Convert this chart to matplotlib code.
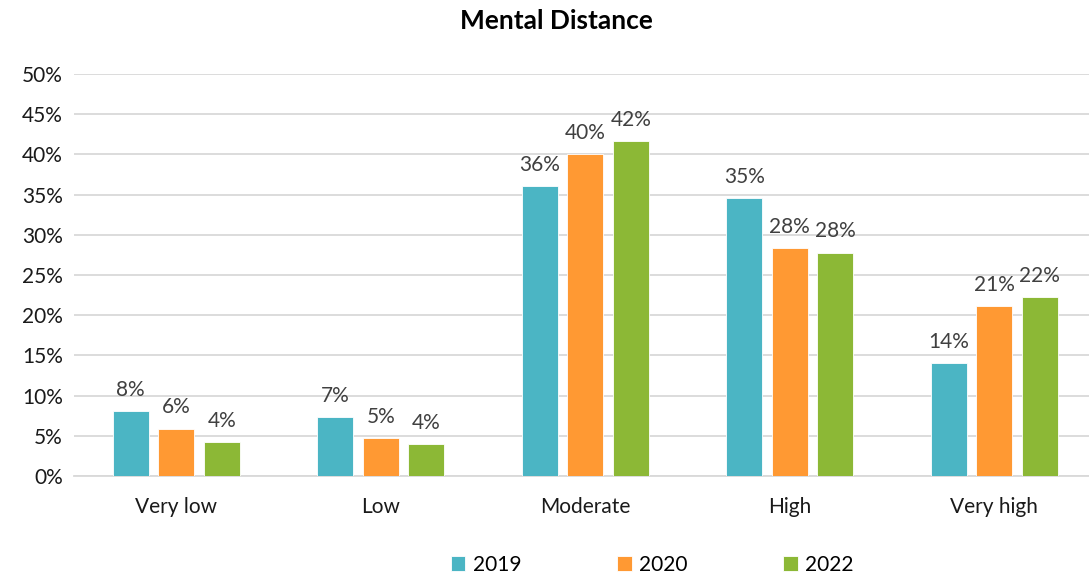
import matplotlib
import matplotlib.pyplot as plt
import numpy as np

matplotlib.rcParams["font.family"] = ["Lato", "DejaVu Sans"]

# Share of respondents per level of mental distance (%)
categories = ["Very low", "Low", "Moderate", "High", "Very high"]
years = ["2019", "2020", "2022"]
vals_2019 = [8.1, 7.3, 36.1, 34.6, 14.0]
vals_2020 = [5.9, 4.7, 40.0, 28.4, 21.1]
vals_2022 = [4.2, 4.0, 41.7, 27.8, 22.3]
yticks = [0, 5, 10, 15, 20, 25, 30, 35, 40, 45, 50]

colours = ["#4BB5C4", "#FF9933", "#8CB836"]
series = [vals_2019, vals_2020, vals_2022]

fig = plt.figure(figsize=(10.89, 5.79), dpi=100)
ax = fig.add_axes([0.068, 0.178, 0.932, 0.694])

x = np.arange(len(categories))
width = 0.176
pitch = 0.2225

for i, (vals, col, yr) in enumerate(zip(series, colours, years)):
    pos = x + (i - 1) * pitch
    bars = ax.bar(pos, vals, width, color=col, edgecolor="white",
                  linewidth=0.6, label=yr, zorder=3)
    for b, v in zip(bars, vals):
        ax.annotate("%.0f%%" % v, (b.get_x() + b.get_width() / 2, v),
                    xytext=(0, 8), textcoords="offset points",
                    ha="center", va="bottom", fontsize=15, color="#404040")

ax.set_xlim(-0.5, 4.463)
ax.set_ylim(0, 50)
ax.set_yticks(yticks)
ax.set_yticklabels(["%d%%" % t for t in yticks])
ax.set_xticks(x)
ax.set_xticklabels(categories)
ax.tick_params(axis="both", length=0, labelsize=15, colors="#1a1a1a")
ax.tick_params(axis="x", pad=15)
ax.tick_params(axis="y", pad=8)
ax.grid(axis="y", color="#D9D9D9", linewidth=1.3, zorder=0)
for side in ["top", "right", "left"]:
    ax.spines[side].set_visible(False)
ax.spines["bottom"].set_color("#D9D9D9")
ax.spines["bottom"].set_linewidth(1.3)

fig.text(0.511, 0.963, "Mental Distance", ha="center", va="center",
         fontsize=19, fontweight="bold")

fig.legend(loc="center", bbox_to_anchor=(0.599, 0.025), ncol=3,
           frameon=False, fontsize=15, handlelength=0.7, handleheight=0.7,
           handletextpad=0.35, columnspacing=4.6)

fig.savefig("out.png", dpi=100)
